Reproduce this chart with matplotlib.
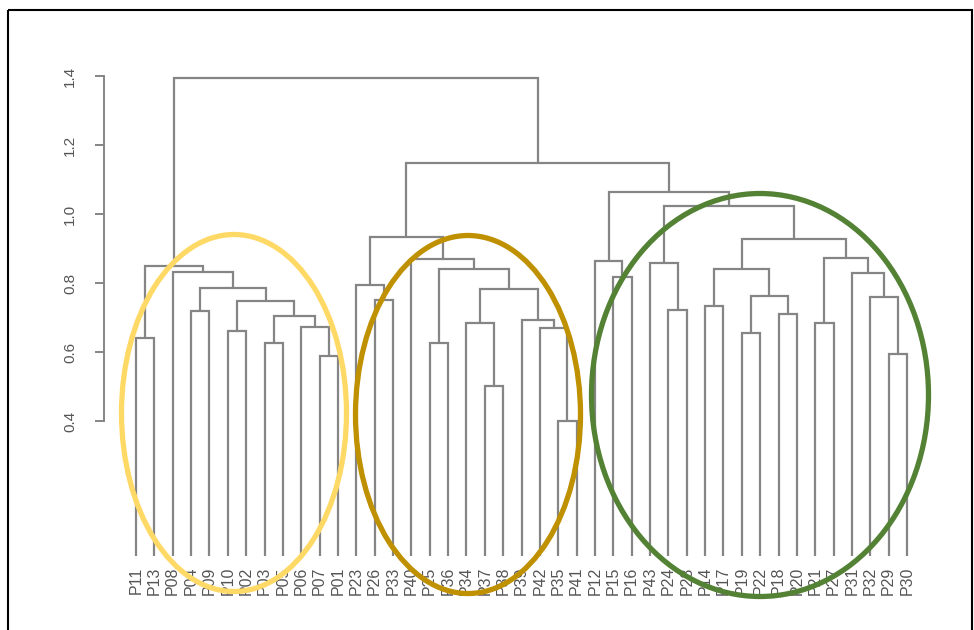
import matplotlib
matplotlib.use("Agg")
import matplotlib.pyplot as plt
from matplotlib.patches import Ellipse, Rectangle

plt.rcParams['font.family'] = ['Liberation Sans', 'DejaVu Sans']

# Leaf labels, left to right as they appear under the tree
leafLabels = ['P11', 'P13', 'P08', 'P04', 'P09', 'P10', 'P02', 'P03', 'P05', 'P06', 'P07', 'P01',
              'P23', 'P26', 'P33', 'P40', 'P25', 'P36', 'P34', 'P37', 'P38', 'P39', 'P42', 'P35', 'P41',
              'P12', 'P15', 'P16', 'P43', 'P24', 'P28', 'P14', 'P17', 'P19', 'P22', 'P18', 'P20', 'P21',
              'P27', 'P31', 'P32', 'P29', 'P30']

# Merge table, R style: negative = leaf position (1-based), positive = earlier merge row (1-based)
mergeLeft = [-1, -4, -6, -8, -11, -10, 4, 3, 2, -3, 1,
             -14, -13, -17, -20, -19, -24, -23, -22, 16, 14, -16, 13,
             -27, -26, -30, -29, -32, -34, -36, 29, 28, -38, -42, -41, -40, 33, 32, 27, 25,
             23, 11]
mergeRight = [-2, -5, -7, -9, -12, 5, 6, 7, 8, 9, 10,
              -15, 12, -18, -21, 15, -25, 17, 18, 19, 20, 21, 22,
              -28, 24, -31, 26, -33, -35, -37, 30, 31, -39, -43, 34, 35, 36, 37, 38, 39,
              40, 41]
mergeHeight = [0.64, 0.72, 0.66, 0.627, 0.587, 0.673, 0.705, 0.748, 0.786, 0.832, 0.848,
               0.751, 0.794, 0.625, 0.502, 0.683, 0.40, 0.669, 0.693, 0.783, 0.84, 0.869, 0.932,
               0.817, 0.865, 0.722, 0.857, 0.733, 0.656, 0.709, 0.763, 0.841, 0.683, 0.593, 0.758,
               0.83, 0.873, 0.928, 1.024, 1.063,
               1.148, 1.393]

yTicks = [0.4, 0.6, 0.8, 1.0, 1.2, 1.4]
leafBottom = 0.01
lineColor = '#858585'

fig = plt.figure(figsize=(9.74, 6.30), dpi=100)
ax = fig.add_axes([104 / 974, 1 - 560 / 630, (930 - 104) / 974, 500 / 630])

# walk the merge table and draw each link
nodeX = {}
nodeY = {}

def childPos(c):
    if c < 0:
        return -c, leafBottom
    return nodeX[c], nodeY[c]

for i in range(len(mergeHeight)):
    h = mergeHeight[i]
    x1, y1 = childPos(mergeLeft[i])
    x2, y2 = childPos(mergeRight[i])
    ax.plot([x1, x1, x2, x2], [y1, h, h, y2], color=lineColor, lw=1.6,
            solid_joinstyle='miter', solid_capstyle='butt')
    nodeX[i + 1] = (x1 + x2) / 2
    nodeY[i + 1] = h

ax.set_xlim(-0.743, 44.25)
ax.set_ylim(-0.0029, 1.4464)

for s in ['top', 'right', 'bottom']:
    ax.spines[s].set_visible(False)
ax.spines['left'].set_bounds(0.4, 1.4)
ax.spines['left'].set_color(lineColor)
ax.spines['left'].set_linewidth(1.4)

ax.set_yticks(yTicks)
ax.set_yticklabels(['%.1f' % t for t in yTicks], rotation=90, va='center')
ax.tick_params(axis='y', length=6.5, width=1.4, color=lineColor, pad=13,
               labelsize=11, labelcolor='#555555')

ax.set_xticks(range(1, len(leafLabels) + 1))
ax.set_xticklabels(leafLabels, rotation=90, va='top')
ax.tick_params(axis='x', length=0, pad=5, labelsize=11.5, labelcolor='#555555')

# overlay in pixel units for the frame and the group rings
ov = fig.add_axes([0, 0, 1, 1])
ov.set_xlim(0, 974)
ov.set_ylim(630, 0)
ov.axis('off')
ov.patch.set_alpha(0)

ov.add_patch(Rectangle((8, 10), 964, 640, fill=False, edgecolor='black', lw=1.5))

ringColors = ['#FFD966', '#BF9000', '#548235']
ringCenters = [(234, 413), (468, 414.5), (760, 395)]
ringSizes = [(225, 357), (225, 358), (337, 403)]
for c, (cx, cy), (w, h) in zip(ringColors, ringCenters, ringSizes):
    ov.add_patch(Ellipse((cx, cy), w, h, fill=False, edgecolor=c, lw=3.8))

fig.savefig('out.png', dpi=100)
